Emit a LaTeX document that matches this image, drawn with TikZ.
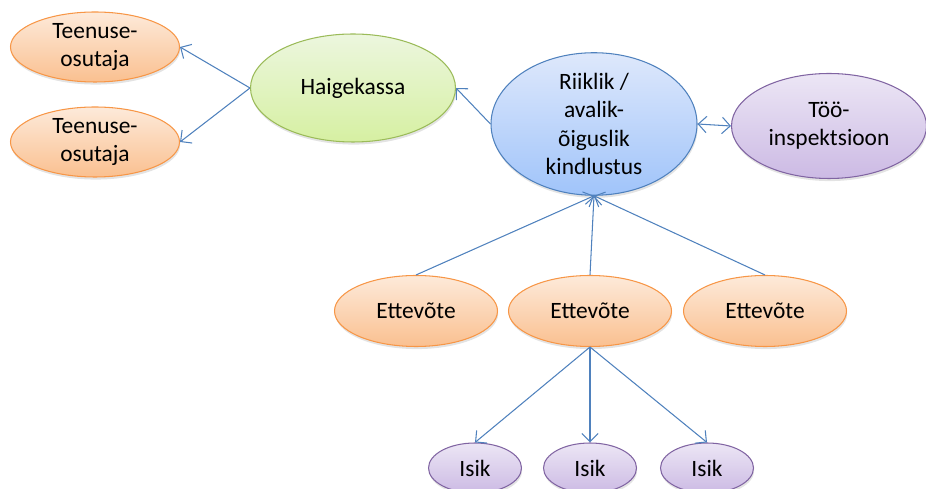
\documentclass[tikz,border=0pt]{standalone}
\usepackage{fontspec}
\setmainfont{Carlito}
\usepackage{tikz}
\usetikzlibrary{shapes.geometric, arrows.meta, shadows}

\definecolor{arrblue}{RGB}{79,129,189}
\definecolor{orgline}{RGB}{247,150,70}
\definecolor{grnline}{RGB}{155,187,89}
\definecolor{bluline}{RGB}{79,129,189}
\definecolor{purline}{RGB}{128,100,162}
\definecolor{orgtop}{RGB}{253,234,218}
\definecolor{orgbot}{RGB}{250,192,144}
\definecolor{grntop}{RGB}{236,246,222}
\definecolor{grnbot}{RGB}{214,240,162}
\definecolor{blutop}{RGB}{222,232,251}
\definecolor{blubot}{RGB}{160,196,250}
\definecolor{purtop}{RGB}{236,230,245}
\definecolor{purbot}{RGB}{204,186,228}

\begin{document}
\begin{tikzpicture}[
      bub/.style={ellipse, draw, line width=0.9pt, inner sep=0pt,
                  align=center, font=\fontsize{20}{24}\selectfont,
                  drop shadow={opacity=0.22, shadow xshift=0.6pt, shadow yshift=-2.2pt}},
      org/.style={bub, draw=orgline, top color=orgtop, bottom color=orgbot},
      grn/.style={bub, draw=grnline, top color=grntop, bottom color=grnbot},
      blu/.style={bub, draw=bluline, top color=blutop, bottom color=blubot},
      pur/.style={bub, draw=purline, top color=purtop, bottom color=purbot},
      arr/.style={-{Straight Barb[length=7pt, width=14pt]}, arrblue, line width=0.9pt},
      arrboth/.style={arr, {Straight Barb[length=7pt, width=14pt]}-{Straight Barb[length=7pt, width=14pt]}},
    ]
    \clip (0,0) rectangle (27.78,14.67);

    \node[org, minimum width=5.07cm, minimum height=2.1cm]  (teen-a)  at (2.85,13.26) {Teenuse-\\osutaja};
    \node[org, minimum width=5.07cm, minimum height=2.1cm]  (teen-b)  at (2.85,10.41) {Teenuse-\\osutaja};
    \node[grn, minimum width=6.15cm, minimum height=3.24cm] (haige)   at (10.59,12.03) {Haigekassa};
    \node[blu, minimum width=6.18cm, minimum height=3.96cm] (riik)    at (17.82,10.95) {Riiklik /\\avalik-\\õiguslik\\kindlustus};
    \node[pur, minimum width=5.85cm, minimum height=3.15cm] (tooinsp) at (24.87,10.89) {Töö-\\inspektsioon};

    \node[org, minimum width=4.89cm, minimum height=2.13cm] (ett-a) at (12.48,5.34) {Ettevõte};
    \node[org, minimum width=4.89cm, minimum height=2.13cm] (ett-b) at (17.70,5.34) {Ettevõte};
    \node[org, minimum width=4.89cm, minimum height=2.13cm] (ett-c) at (22.95,5.34) {Ettevõte};

    \node[pur, minimum width=2.79cm, minimum height=1.5cm] (isik-a) at (14.25,0.63) {Isik};
    \node[pur, minimum width=2.79cm, minimum height=1.5cm] (isik-b) at (17.70,0.63) {Isik};
    \node[pur, minimum width=2.79cm, minimum height=1.5cm] (isik-c) at (21.21,0.63) {Isik};

    \draw[arr] (haige.west) -- (teen-a.east);
    \draw[arr] (haige.west) -- (teen-b.east);
    \draw[arr] (riik.west)  -- (haige.east);
    \draw[arrboth] (riik.east) -- (tooinsp.west);
    \draw[arr] (ett-a.north) -- (riik.south);
    \draw[arr] (ett-b.north) -- (riik.south);
    \draw[arr] (ett-c.north) -- (riik.south);
    \draw[arr] (ett-b.south) -- (isik-a.north);
    \draw[arr] (ett-b.south) -- (isik-b.north);
    \draw[arr] (ett-b.south) -- (isik-c.north);
  \end{tikzpicture}
\end{document}
